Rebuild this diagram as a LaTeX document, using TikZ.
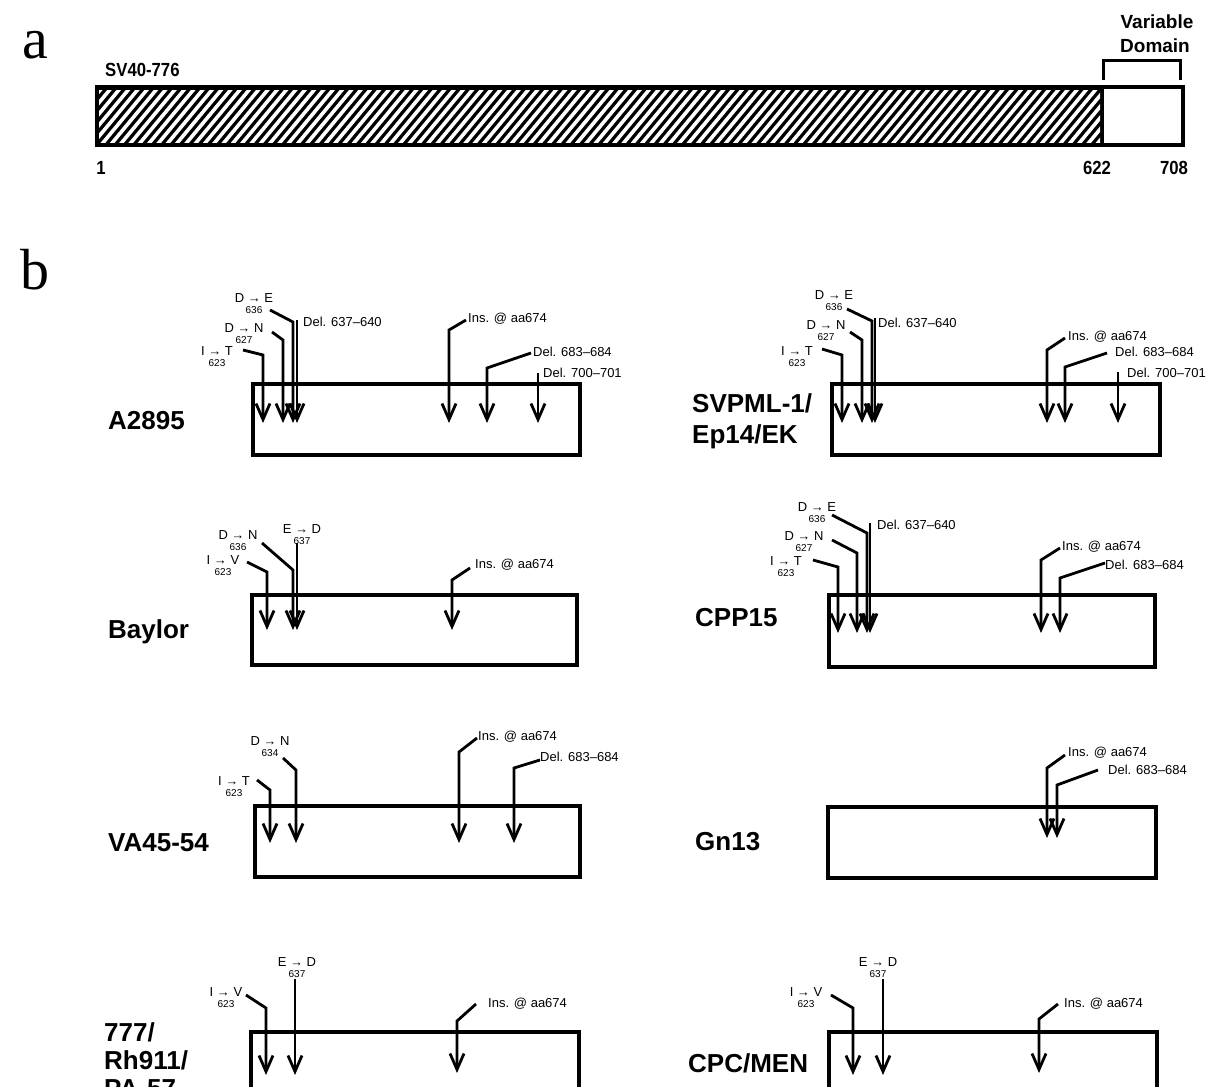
\documentclass[tikz,border=0pt]{standalone}
\usepackage{fontspec}
\setmainfont{Liberation Sans}
\newfontfamily\serifbig{Liberation Serif}
\newfontfamily\condsans{Liberation Sans}[FakeStretch=0.88]
\usetikzlibrary{arrows.meta}
\newcommand\nf{\fontsize{10}{10}\selectfont}
% mutation label: name, x, y, text, number
\newcommand\mutlab[5]{\node[mlab] (#1) at (#2,#3) {#4\\{\nf #5}};}
% bent connector: id, sx, sy, bx, by, tip y
\newcommand\bent[6]{%
  \coordinate (#1s) at (#2,#3); \coordinate (#1b) at (#4,#5); \coordinate (#1t) at (#4,#6);
  \draw[conn] (#1s) -- (#1b) -- (#1t);}
% straight connector: id, x, top y, tip y
\newcommand\straight[4]{%
  \coordinate (#1s) at (#2,#3); \coordinate (#1t) at (#2,#4);
  \draw[conn] (#1s) -- (#1t);}
\begin{document}
\begin{tikzpicture}[x=1pt,y=-1pt,
  box/.style={draw=black,line width=4pt},
  conn/.style={line width=2.8pt,-{Straight Barb[length=16pt,width=14pt,line width=2.8pt]}},
  mlab/.style={font=\fontsize{13}{11}\selectfont,align=center,inner sep=0pt},
  dlab/.style={font=\fontsize{13}{13}\selectfont,inner sep=0pt,anchor=west},
  strain/.style={font=\bfseries\fontsize{26}{31}\selectfont,align=left,anchor=west,inner sep=0pt},
  panel/.style={font=\serifbig\fontsize{58}{58}\selectfont,inner sep=0pt},
  small/.style={font=\condsans\bfseries\fontsize{19}{21}\selectfont,inner sep=0pt}]
\useasboundingbox (0,0) rectangle (1211,1087);
\fill[white] (0,0) rectangle (1211,1087);
\clip (0,0) rectangle (1211,1087);

% ---------------- panel a ----------------
\node[panel] (pa) at (35,45) {a};
\node[small,anchor=west] (sv) at (105,70) {SV40-776};
\fill[black] (97,87) rectangle (1102,145);
\begin{scope}
  \clip (99,90) rectangle (1100,142);
  \foreach \i in {-10,...,112}
    \draw[white,line width=3.6pt] ({97+\i*9.3},150) -- ++(58,-70);
\end{scope}
\draw[line width=3.5pt] (97,87) rectangle (1183,145);
\draw[line width=3pt] (1102,87) -- (1102,145);
\draw[line width=3pt] (1103,80) -- (1103,60) -- (1180,60) -- (1180,80);
\node[small,font=\bfseries\fontsize{19}{21}\selectfont] (var) at (1157,22) {Variable};
\node[small,font=\bfseries\fontsize{19}{21}\selectfont] (dom) at (1155,46) {Domain};
\node[small] (n1) at (101,168) {1};
\node[small] (n622) at (1097,168) {622};
\node[small] (n708) at (1174,168) {708};

% ---------------- panel b ----------------
\node[panel] (pb) at (35,270) {b};

% A2895
\node[strain] (sA) at (108,421) {A2895};
\draw[box] (253,384) rectangle (580,455);
\mutlab{A1}{217}{357}{I → T}{623}
\mutlab{A2}{244}{334}{D → N}{627}
\mutlab{A3}{254}{304}{D → E}{636}
\node[dlab] (A4) at (303,322) {Del. 637–640};
\node[dlab] (A5) at (468,319) {Ins. @ aa674};
\node[dlab] (A6) at (533,352) {Del. 683–684};
\node[dlab] (A7) at (543,373) {Del. 700–701};
\bent{a1}{243}{350}{263}{355}{423}
\bent{a2}{272}{332}{283}{340}{423}
\bent{a3}{270}{310}{293}{322}{423}
\straight{a4}{297}{320}{423}
\bent{a5}{466}{320}{449}{330}{423}
\bent{a6}{531}{353}{487}{368}{423}
\straight{a7}{538}{373}{423}

% SVPML-1/Ep14/EK
\node[strain] (sS) at (692,421) {SVPML-1/\\Ep14/EK};
\draw[box] (832,384) rectangle (1160,455);
\mutlab{S1}{797}{357}{I → T}{623}
\mutlab{S2}{826}{331}{D → N}{627}
\mutlab{S3}{834}{301}{D → E}{636}
\node[dlab] (S4) at (878,323) {Del. 637–640};
\node[dlab] (S5) at (1068,337) {Ins. @ aa674};
\node[dlab] (S6) at (1115,352) {Del. 683–684};
\node[dlab] (S7) at (1127,373) {Del. 700–701};
\bent{s1}{822}{349}{842}{355}{423}
\bent{s2}{850}{332}{862}{340}{423}
\bent{s3}{847}{309}{872}{321}{423}
\straight{s4}{875}{318}{423}
\bent{s5}{1065}{338}{1047}{350}{423}
\bent{s6}{1107}{353}{1065}{367}{423}
\straight{s7}{1118}{372}{423}

% Baylor
\node[strain] (sB) at (108,632) {Baylor};
\draw[box] (252,595) rectangle (577,665);
\mutlab{B1}{223}{566}{I → V}{623}
\mutlab{B2}{238}{541}{D → N}{636}
\mutlab{B3}{302}{535}{E → D}{637}
\node[dlab] (B4) at (475,565) {Ins. @ aa674};
\bent{b1}{247}{562}{267}{572}{630}
\bent{b2}{262}{543}{293}{570}{630}
\straight{b3}{297}{543}{630}
\bent{b4}{470}{568}{452}{580}{630}

% CPP15
\node[strain] (sC) at (695,618) {CPP15};
\draw[box] (829,595) rectangle (1155,667);
\mutlab{C1}{786}{567}{I → T}{623}
\mutlab{C2}{804}{542}{D → N}{627}
\mutlab{C3}{817}{513}{D → E}{636}
\node[dlab] (C4) at (877,525) {Del. 637–640};
\node[dlab] (C5) at (1062,547) {Ins. @ aa674};
\node[dlab] (C6) at (1105,565) {Del. 683–684};
\bent{c1}{813}{560}{838}{567}{633}
\bent{c2}{832}{540}{857}{553}{633}
\bent{c3}{832}{515}{867}{533}{633}
\straight{c4}{870}{523}{633}
\bent{c5}{1060}{548}{1041}{560}{633}
\bent{c6}{1105}{563}{1060}{578}{633}

% VA45-54
\node[strain] (sV) at (108,843) {VA45-54};
\draw[box] (255,806) rectangle (580,877);
\mutlab{V1}{234}{787}{I → T}{623}
\mutlab{V2}{270}{747}{D → N}{634}
\node[dlab] (V3) at (478,737) {Ins. @ aa674};
\node[dlab] (V4) at (540,757) {Del. 683–684};
\bent{v1}{257}{780}{270}{790}{843}
\bent{v2}{283}{758}{296}{770}{843}
\bent{v3}{477}{738}{459}{752}{843}
\bent{v4}{540}{760}{514}{768}{843}

% Gn13
\node[strain] (sG) at (695,842) {Gn13};
\draw[box] (828,807) rectangle (1156,878);
\node[dlab] (G1) at (1068,753) {Ins. @ aa674};
\node[dlab] (G2) at (1108,770) {Del. 683–684};
\bent{g1}{1065}{755}{1047}{768}{838}
\bent{g2}{1098}{770}{1057}{785}{838}

% 777/Rh911/PA-57
\node[strain,font=\bfseries\fontsize{26}{28}\selectfont] (sR) at (104,1060) {777/\\Rh911/\\PA-57};
\draw[box] (251,1032) rectangle (579,1103);
\mutlab{R1}{226}{998}{I → V}{623}
\mutlab{R2}{297}{968}{E → D}{637}
\node[dlab] (R3) at (488,1004) {Ins. @ aa674};
\bent{r1}{246}{995}{266}{1008}{1075}
\straight{r2}{295}{979}{1075}
\bent{r3}{476}{1004}{457}{1021}{1073}

% CPC/MEN
\node[strain] (sM) at (688,1063) {CPC/MEN};
\draw[box] (829,1032) rectangle (1157,1103);
\mutlab{M1}{806}{998}{I → V}{623}
\mutlab{M2}{878}{968}{E → D}{637}
\node[dlab] (M3) at (1064,1004) {Ins. @ aa674};
\bent{m1}{831}{995}{853}{1008}{1075}
\straight{m2}{883}{979}{1075}
\bent{m3}{1058}{1004}{1039}{1019}{1073}
\end{tikzpicture}
\end{document}
